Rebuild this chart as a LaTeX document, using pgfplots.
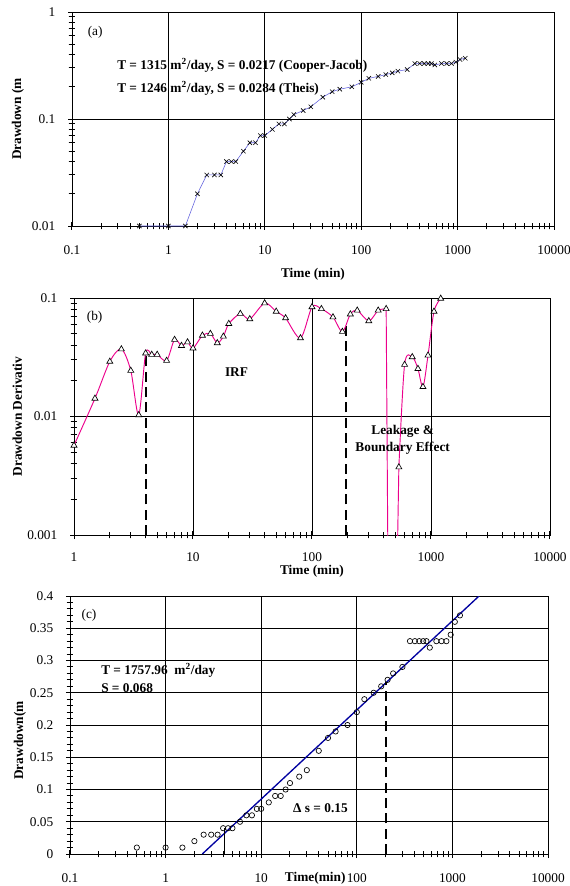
\documentclass[border=0pt]{standalone}
\usepackage{pgfplots}
\usepackage{pgfplotstable}
\pgfplotsset{compat=1.18}
\usepackage{fontspec}
\setmainfont{Liberation Serif}

\pgfplotstableread{
t s
0.5 0.01
1 0.01
1.5 0.01
2 0.02
2.5 0.03
3 0.03
3.5 0.03
4 0.04
4.5 0.04
5 0.04
6 0.05
7 0.06
8 0.06
9 0.07
10 0.07
12 0.08
14 0.09
16 0.09
18 0.10
20 0.11
25 0.12
30 0.13
40 0.16
50 0.18
60 0.19
80 0.20
100 0.22
120 0.24
150 0.25
180 0.26
210 0.27
240 0.28
300 0.29
360 0.33
405 0.33
450 0.33
495 0.33
535 0.33
580 0.32
680 0.33
770 0.33
865 0.33
960 0.34
1060 0.36
1200 0.37
}\drawdown

% derivative, early part (to 420 min)
\pgfplotstableread{
t d
1 0.0057
1.5 0.0142
2 0.0291
2.5 0.037
3 0.0244
3.5 0.0103
4 0.0342
4.5 0.0333
5 0.0333
6 0.0296
7 0.0445
8 0.0396
9 0.0424
10 0.0377
12 0.0483
14 0.050
16 0.0417
18 0.0474
20 0.0607
25 0.0738
30 0.0665
40 0.0905
50 0.077
60 0.0677
80 0.0459
100 0.084
120 0.081
150 0.069
180 0.052
210 0.073
240 0.0786
300 0.064
360 0.0786
420 0.081
}\derivA

% derivative, plunge around 480 min (value below the axis)
\pgfplotstableread{
t d
420 0.081
440 0.0001
505 0.0001
537 0.00374
}\derivB

% derivative, late part
\pgfplotstableread{
t d
537 0.00374
600 0.0274
696 0.0318
777 0.0253
856 0.0178
944 0.0328
1060 0.077
1207 0.099
}\derivC

\definecolor{fitblue}{RGB}{0,0,160}
\definecolor{lineblue}{RGB}{90,90,220}

\tikzset{anno/.style={font=\bfseries\fontsize{10}{12}\selectfont},
  vdash/.style={black, line width=1.4pt, dash pattern=on 7.5pt off 4pt}}

\pgfplotsset{
  excel/.style={
    scale only axis, anchor=south west,
    axis line style={black, line width=0.6pt},
    grid=major,
    major grid style={black, line width=0.5pt},
    tick align=center, tick pos=left,
    major tick length=6pt, minor tick length=5pt,
    major tick style={black, line width=0.75pt},
    minor tick style={black, line width=0.75pt},
    xminorticks=true, yminorticks=true,
    ticklabel style={font=\fontsize{10}{12}\selectfont},
    /pgf/number format/assume math mode=true,
    xticklabel style={yshift=-8pt},
    yticklabel style={xshift=-6pt},
    every axis x label/.style={at={(axis description cs:0.5,0)}, anchor=center, font=\bfseries\fontsize{10}{12}\selectfont},
    every axis y label/.style={rotate=90, anchor=center, font=\bfseries\fontsize{10}{12}\selectfont},
  },
  logminor/.style={
    extra x tick style={grid=none, major tick length=5pt, tick align=center},
    extra y tick style={grid=none, major tick length=5pt, tick align=center},
    extra x tick labels={}, extra y tick labels={},
  },
}

\begin{document}
\begin{tikzpicture}
\useasboundingbox (0,0) rectangle (427.5pt,-664.5pt);

% ---------------- (a)
\begin{axis}[excel, logminor,
  at={(54pt,-169.5pt)}, width=361.5pt, height=160.5pt,
  xmode=log, ymode=log,
  xmin=0.1, xmax=10000, ymin=0.01, ymax=1,
  xtick={0.1,1,10,100,1000,10000},
  xticklabels={0.1,1,10,100,1000,10000},
  extra x ticks={0.2,0.3,0.4,0.5,0.6,0.7,0.8,0.9,2,3,4,5,6,7,8,9,20,30,40,50,60,70,80,90,200,300,400,500,600,700,800,900,2000,3000,4000,5000,6000,7000,8000,9000},
  ytick={0.01,0.1,1},
  yticklabels={0.01,0.1,1},
  extra y ticks={0.02,0.03,0.04,0.05,0.06,0.07,0.08,0.09,0.2,0.3,0.4,0.5,0.6,0.7,0.8,0.9},
  xlabel={Time (min)},
  xlabel style={yshift=-36pt},
  ylabel={Drawdown (m},
  ylabel style={at={(axis description cs:-0.112,0.5)}},
]
\addplot[lineblue, line width=0.4pt, mark=x, mark size=2.3pt,
  mark options={black, solid, line width=0.45pt}] table[x=t,y=s] {\drawdown};
\node[font=\fontsize{10}{12}\selectfont] at (axis cs:0.174,0.646) {(a)};
\node[anno, anchor=west, inner sep=0pt] at (axis cs:0.293,0.315)
  {T = 1315 m\textsuperscript{2}/day, S = 0.0217 (Cooper-Jacob)};
\node[anno, anchor=west, inner sep=0pt] at (axis cs:0.293,0.194)
  {T = 1246 m\textsuperscript{2}/day, S = 0.0284 (Theis)};
\end{axis}

% ---------------- (b)
\begin{axis}[excel, logminor,
  at={(55.5pt,-401.25pt)}, width=357pt, height=177.75pt,
  xmode=log, ymode=log,
  xmin=1, xmax=10000, ymin=0.001, ymax=0.1,
  xtick={1,10,100,1000,10000},
  xticklabels={1,10,100,1000,10000},
  xticklabel style={yshift=1.5pt},
  extra x ticks={2,3,4,5,6,7,8,9,20,30,40,50,60,70,80,90,200,300,400,500,600,700,800,900,2000,3000,4000,5000,6000,7000,8000,9000},
  ytick={0.001,0.01,0.1},
  yticklabels={0.001,0.01,0.1},
  extra y ticks={0.002,0.003,0.004,0.005,0.006,0.007,0.008,0.009,0.02,0.03,0.04,0.05,0.06,0.07,0.08,0.09},
  xlabel={Time (min)},
  xlabel style={yshift=-27pt},
  ylabel={Drawdown Derivativ},
  ylabel style={at={(axis description cs:-0.119,0.5)}},
]
\addplot[vdash] coordinates {(4,0.001) (4,0.0354)};
\addplot[vdash] coordinates {(194,0.001) (194,0.0575)};
\addplot[magenta, line width=0.7pt, smooth, tension=0.5] table[x=t,y=d] {\derivA};
\addplot[magenta, line width=0.7pt] table[x=t,y=d] {\derivB};
\addplot[magenta, line width=0.7pt, smooth, tension=0.5] table[x=t,y=d] {\derivC};
\addplot[only marks, mark=triangle*, mark size=2.6pt,
  mark options={fill=white, draw=black, line width=0.5pt}] table[x=t,y=d] {\derivA};
\addplot[only marks, mark=triangle*, mark size=2.6pt,
  mark options={fill=white, draw=black, line width=0.5pt}] table[x=t,y=d] {\derivC};
\node[font=\fontsize{10}{12}\selectfont] at (axis cs:1.49,0.069) {(b)};
\node[anno] at (axis cs:23.2,0.0235) {IRF};
\node[anno, align=center] at (axis cs:578,0.00635) {Leakage \&\\[0.5pt]Boundary Effect};
\end{axis}

% ---------------- (c)
\begin{axis}[excel,
  at={(52.5pt,-640.5pt)}, width=358.5pt, height=193.5pt,
  xmode=log,
  xmin=0.1, xmax=10000, ymin=0, ymax=0.4,
  xtick={0.1,1,10,100,1000,10000},
  xticklabels={0.1,1,10,100,1000,10000},
  minor xtick={0.2,0.3,0.4,0.5,0.6,0.7,0.8,0.9,2,3,4,5,6,7,8,9,20,30,40,50,60,70,80,90,200,300,400,500,600,700,800,900,2000,3000,4000,5000,6000,7000,8000,9000},
  ytick={0,0.05,0.1,0.15,0.2,0.25,0.3,0.35,0.4},
  yticklabels={0,0.05,0.1,0.15,0.2,0.25,0.3,0.35,0.4},
  minor ytick={0.01,0.02,0.03,0.04,0.06,0.07,0.08,0.09,0.11,0.12,0.13,0.14,0.16,0.17,0.18,0.19,0.21,0.22,0.23,0.24,0.26,0.27,0.28,0.29,0.31,0.32,0.33,0.34,0.36,0.37,0.38,0.39},
  scaled y ticks=false,
  xlabel={Time(min)},
  xlabel style={at={(axis description cs:0.513,0)}, yshift=-18pt},
  ylabel={Drawdown(m},
  ylabel style={at={(axis description cs:-0.105,0.44)}},
]
\addplot[only marks, mark=o, mark size=2pt,
  mark options={black, line width=0.5pt}] table[x=t,y=s] {\drawdown};
\addplot[fitblue, line width=1pt] coordinates {(2.42,0) (1900,0.4)};
\addplot[black, line width=1pt] coordinates {(4.1,0) (4.1,0.04)};
\addplot[vdash] coordinates {(200,0) (200,0.267)};
\node[font=\fontsize{10}{12}\selectfont] at (axis cs:0.158,0.37) {(c)};
\node[anno, anchor=west, inner sep=0pt] at (axis cs:0.211,0.2847) {T = 1757.96\ \ m\textsuperscript{2}/day};
\node[anno, anchor=west, inner sep=0pt] at (axis cs:0.211,0.257) {S = 0.068};
\node[anno, anchor=west, inner sep=0pt] at (axis cs:21.5,0.0713) {Δ s = 0.15};
\end{axis}
\end{tikzpicture}
\end{document}
